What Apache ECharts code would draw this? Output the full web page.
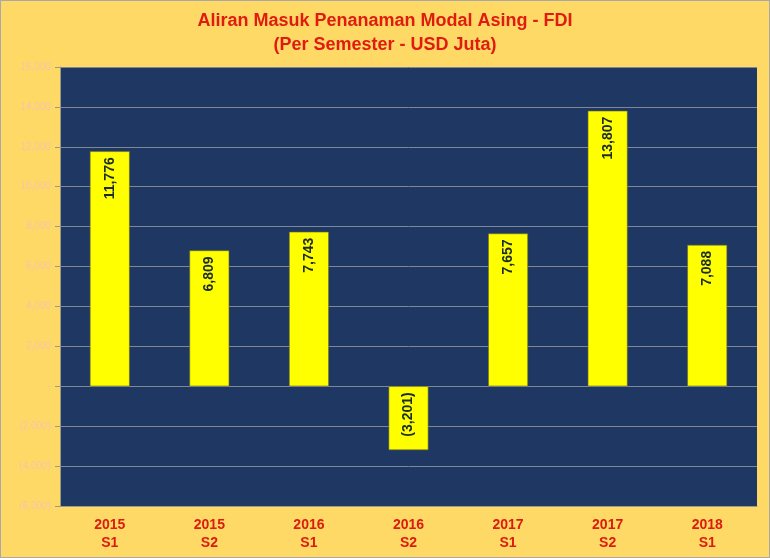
<!DOCTYPE html>
<html><head><meta charset="utf-8">
<script src="https://cdn.jsdelivr.net/npm/echarts@6/dist/echarts.min.js"></script>
<style>html,body{margin:0;padding:0;background:#FFD966;}#c{width:770px;height:558px;box-sizing:border-box;border:1px solid #a9a9a9;}</style>
</head><body><div id="c"></div>
<script>
const categories = ['2015\nS1','2015\nS2','2016\nS1','2016\nS2','2017\nS1','2017\nS2','2018\nS1'];
const values = [11776, 6809, 7743, -3201, 7657, 13807, 7088];
const yTicks = {min: -6000, max: 16000, interval: 2000};
const titleLines = ['Aliran Masuk Penanaman Modal Asing - FDI', '(Per Semester - USD Juta)'];

function fmt(v){
  if (v === 0) return '-';
  const s = Math.abs(v).toLocaleString('en-US');
  return v < 0 ? '(' + s + ')' : s;
}
const chart = echarts.init(document.getElementById('c'));
chart.setOption({
  backgroundColor: '#FFD966',
  animation: false,
  title: {
    text: titleLines.join('\n'), left: 'center', top: 3,
    textStyle: {color: '#E01B10', fontSize: 18, fontWeight: 'bold', fontFamily: 'Liberation Sans, Arial, sans-serif', lineHeight: 24}
  },
  grid: {left: 59, right: 12, top: 66, bottom: 51, show: true, backgroundColor: '#1F3763', borderWidth: 0},
  xAxis: {
    type: 'category', data: categories,
    axisLine: {onZero: false, lineStyle: {color: '#9a9a8a', width: 1}},
    axisTick: {show: false},
    axisLabel: {color: '#DC1C10', fontWeight: 'bold', fontSize: 14, fontFamily: 'Liberation Sans, Arial, sans-serif', lineHeight: 18, margin: 10}
  },
  yAxis: {
    type: 'value', min: yTicks.min, max: yTicks.max, interval: yTicks.interval,
    axisLine: {show: true, lineStyle: {color: '#9a9a8a'}},
    axisTick: {show: true, length: 5, lineStyle: {color: '#9a9a8a'}},
    splitLine: {lineStyle: {color: '#7f8796', width: 1}},
    axisLabel: {color: '#F5C6A6', fontSize: 10, fontFamily: 'Liberation Sans, Arial, sans-serif', formatter: fmt, margin: 9}
  },
  series: [{
    type: 'bar', data: values, barWidth: '40%',
    itemStyle: {color: '#FFFF00', borderColor: '#6b6b2a', borderWidth: 0.6},
    label: {
      show: true, rotate: 90, position: 'insideTop', distance: 6, align: 'right', verticalAlign: 'middle',
      formatter: p => fmt(p.value), color: '#1C2B2B', fontWeight: 'bold', fontSize: 14,
      fontFamily: 'Liberation Sans, Arial, sans-serif'
    }
  }]
});
</script></body></html>
